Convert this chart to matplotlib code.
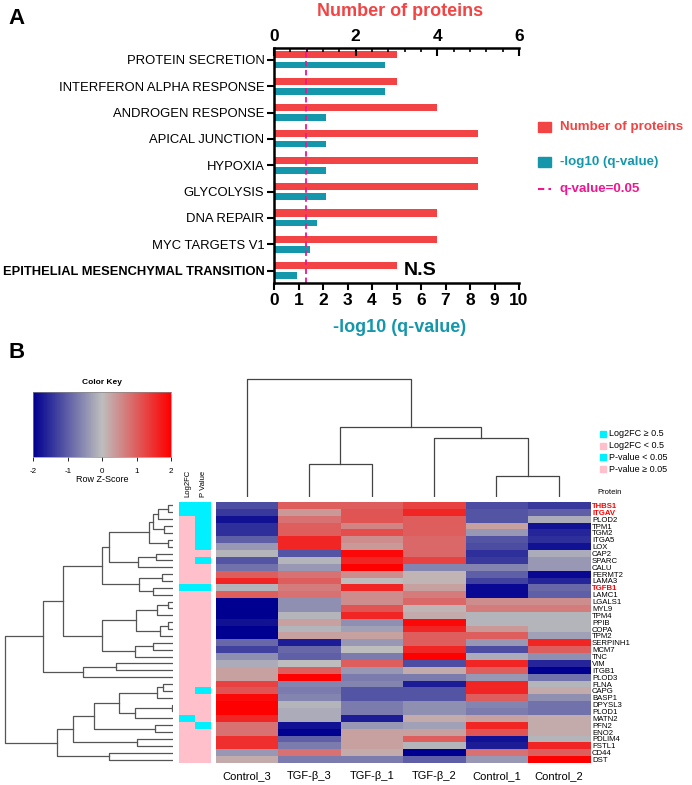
import numpy as np
import matplotlib
matplotlib.use('Agg')
import matplotlib.pyplot as plt
from matplotlib.colors import LinearSegmentedColormap, ListedColormap
from matplotlib.patches import Rectangle
from matplotlib.lines import Line2D

plt.rcParams['font.family'] = ['Liberation Sans', 'DejaVu Sans']
NARROW = ['Liberation Sans', 'DejaVu Sans']

# ---------------- panel A data ----------------
hallmarks = ['PROTEIN SECRETION', 'INTERFERON ALPHA RESPONSE', 'ANDROGEN RESPONSE',
             'APICAL JUNCTION', 'HYPOXIA', 'GLYCOLYSIS', 'DNA REPAIR',
             'MYC TARGETS V1', 'EPITHELIAL MESENCHYMAL TRANSITION']
n_proteins = [3, 3, 4, 5, 5, 5, 4, 4, 3]
neg_log_q = [4.53, 4.53, 2.11, 2.11, 2.11, 2.11, 1.77, 1.46, 0.92]
q_cut = 1.301

# ---------------- panel B data ----------------
samples = ['Control_3', 'TGF-\u03b2_3', 'TGF-\u03b2_1', 'TGF-\u03b2_2', 'Control_1', 'Control_2']
proteins = ['THBS1', 'ITGAV', 'PLOD2', 'TPM1', 'TGM2', 'ITGA5', 'LOX', 'CAP2', 'SPARC',
            'CALU', 'FERMT2', 'LAMA3', 'TGFB1', 'LAMC1', 'LGALS1', 'MYL9', 'TPM4', 'PPIB',
            'COPA', 'TPM2', 'SERPINH1', 'MCM7', 'TNC', 'VIM', 'ITGB1', 'PLOD3', 'FLNA',
            'CAPG', 'BASP1', 'DPYSL3', 'PLOD1', 'MATN2', 'PFN2', 'ENO2', 'PDLIM4', 'FSTL1',
            'CD44', 'DST']
highlight = ['THBS1', 'ITGAV', 'TGFB1']
zscore = [
    [-1.2, 1.0, 1.0, 1.3, -1.2, -1.4],
    [-1.4, 0.4, 1.1, 1.6, -1.1, -1.0],
    [-1.8, 0.8, 1.1, 1.0, -1.1, -0.2],
    [-1.5, 1.0, 0.6, 1.0, 0.3, -1.8],
    [-1.5, 1.0, 1.2, 1.0, -0.4, -1.6],
    [-1.0, 1.6, 0.5, 0.9, -1.1, -1.5],
    [-0.4, 1.6, 0.4, 0.9, -1.2, -1.8],
    [-0.1, -1.1, 1.9, 0.9, -1.5, -0.2],
    [-1.1, -0.1, 1.6, 1.3, -1.4, -0.4],
    [-0.8, -0.4, 2.0, -0.6, -0.6, -0.4],
    [1.0, 0.8, 0.5, 0.1, -1.0, -1.9],
    [1.6, 1.0, 0.0, 0.1, -1.3, -1.6],
    [-0.1, 0.7, 1.6, 0.3, -1.9, -0.9],
    [1.0, 0.8, 0.5, 0.7, -1.9, -1.0],
    [-2.0, -0.5, 0.5, 0.9, 0.5, 0.5],
    [-2.0, -0.5, 1.1, 0.1, 0.7, 0.7],
    [-2.0, -0.1, 1.6, 0.2, -0.1, -0.1],
    [-1.8, 0.3, -0.5, 1.9, -0.1, -0.1],
    [-2.0, -0.1, -0.3, 1.6, 0.4, -0.1],
    [-2.0, 0.3, 0.3, 1.0, 1.0, -0.3],
    [-0.9, -1.7, -0.4, 1.0, -0.4, 1.6],
    [-1.3, -0.9, 0.0, 1.6, -1.2, 1.0],
    [-0.5, -1.0, -0.7, 2.0, -0.2, -0.5],
    [-0.2, 0.0, 1.0, -1.2, 1.6, -1.6],
    [0.3, 1.0, -0.4, 0.2, 1.0, -2.0],
    [0.3, 2.0, -0.7, -0.7, -0.4, -0.8],
    [1.3, -0.6, -0.6, -1.7, 1.6, -0.1],
    [1.1, -0.7, -1.1, -1.1, 1.6, 0.2],
    [1.9, -0.6, -1.1, -1.1, 1.0, -0.5],
    [2.0, -0.1, -0.7, -0.5, -0.6, -0.8],
    [2.0, -0.2, -0.7, -0.5, -0.7, -0.8],
    [1.6, -0.2, -1.7, 0.2, 0.3, 0.2],
    [0.8, -1.8, -0.4, -0.3, 1.6, 0.2],
    [0.8, -2.0, 0.3, 0.3, 1.1, 0.2],
    [1.5, -1.0, 0.3, 1.0, -1.8, -0.1],
    [1.5, -0.7, 0.3, -0.1, -1.7, 1.6],
    [-0.4, 0.8, 0.2, -2.0, 0.8, 1.0],
    [0.2, -0.7, -0.7, -1.0, -0.4, 2.0],
]
# 1 = Log2FC >= 0.5 / P < 0.05
log2fc_flag = [1, 1, 0, 0, 0, 0, 0, 0, 0, 0, 0, 0, 1, 0, 0, 0, 0, 0, 0, 0,
               0, 0, 0, 0, 0, 0, 0, 0, 0, 0, 0, 1, 0, 0, 0, 0, 0, 0]
pval_flag = [1, 1, 1, 1, 1, 1, 1, 0, 1, 0, 0, 0, 1, 0, 0, 0, 0, 0, 0, 0,
             0, 0, 0, 0, 0, 0, 0, 1, 0, 0, 0, 0, 1, 0, 0, 0, 0, 0]

# dendrograms: (left, right, merge height), leaves are display indices
row_tree = (
    (
        (
            (
                (((((0, 1, 5.0), 2, 14.7), (3, 4, 8.7), 20.3), (5, 6, 5.0), 23.7),
                 ((7, 8, 17.3), 9, 35.3), 63.7),
                ((10, 11, 11.3), (12, 13, 19.7), 33.7), 70.7),
            ((((14, 15, 4.7), 16, 16.0), ((17, 18, 5.3), 19, 13.0), 37.3),
             ((20, 21, 20.3), 22, 38.0), 71.3),
            109.7),
        ((23, 24, 57.0), 25, 90.3), 129.7),
    (
        (
            (
                ((((26, 27, 9.7), 28, 16.3), ((29, 30, 0.7), 31, 38.0), 53.7),
                 (32, 33, 18.0), 78.7)),
            (34, 35, 36.3), 100.3),
        (36, 37, 63.7), 116.3),
    168.3)
col_tree = (0, ((1, 2, 32.7), (3, (4, 5, 21.3), 58.7), 70.3), 118.0)

RED = '#F24444'
TEAL = '#1597AB'
PINKLINE = '#F0168C'
CYAN = '#00F0FF'
PINK = '#FFC0CB'

W, H = 692, 785
fig = plt.figure(figsize=(W / 100, H / 100), dpi=100)


def box(x0, y0, x1, y1):
    return [x0 / W, 1 - y1 / H, (x1 - x0) / W, (y1 - y0) / H]


def ftext(x, y, s, **kw):
    fig.text(x / W, 1 - y / H, s, **kw)


def unwrap(node):
    while isinstance(node, tuple) and len(node) == 1:
        node = node[0]
    return node


def draw_tree(ax, node, rows=True):
    node = unwrap(node)
    if isinstance(node, int):
        return node, 0.0
    left, right, h = node
    pl, hl = draw_tree(ax, left, rows)
    pr, hr = draw_tree(ax, right, rows)
    if rows:
        ax.plot([hl, h, h, hr], [pl, pl, pr, pr], color='#555555', lw=0.9)
    else:
        ax.plot([pl, pl, pr, pr], [hl, h, h, hr], color='#444444', lw=0.9)
    return (pl + pr) / 2, h


# ================= panel A =================
ftext(8, 18, 'A', fontsize=16, fontweight='bold', va='center', ha='left')

ax = fig.add_axes(box(274, 48.3, 519, 283.3))
ax2 = ax.twiny()
ypos = np.arange(len(hallmarks))

ax2.barh(ypos - 0.19, n_proteins, height=0.27, color=RED)
ax.barh(ypos + 0.19, neg_log_q, height=0.25, color=TEAL)
ax.axvline(q_cut, color=PINKLINE, lw=1.3, ls=(0, (3, 2)))
ax.set_zorder(ax2.get_zorder() + 1)
ax.patch.set_visible(False)

ax.set_xlim(0, 10)
ax2.set_xlim(0, 6)
ax.set_ylim(8.48, -0.44)
ax.set_xticks(range(11))
ax2.set_xticks([0, 2, 4, 6])
ax2.xaxis.set_minor_locator(matplotlib.ticker.MultipleLocator(0.4))
ax.set_yticks(ypos)
ax.set_yticklabels(hallmarks, family=NARROW, fontsize=9.4)
ax.get_yticklabels()[-1].set_fontweight('bold')
ax.get_yticklabels()[-1].set_fontsize(9.3)
for lab in ax.get_xticklabels() + ax2.get_xticklabels():
    lab.set_family(NARROW)
    lab.set_fontweight('bold')
    lab.set_fontsize(12.5)
for a in (ax, ax2):
    for s in a.spines.values():
        s.set_linewidth(1.8)
    a.spines['right'].set_visible(False)
ax.spines['top'].set_visible(False)
ax2.spines['bottom'].set_visible(False)
ax2.spines['left'].set_visible(False)
ax.tick_params(axis='both', which='major', direction='out', length=5, width=1.5, pad=2)
ax2.tick_params(axis='x', which='major', direction='in', length=6, width=1.5, pad=3)
ax2.tick_params(axis='x', which='minor', direction='in', length=3, width=1.2)

ax.text(5.3, 8.0, 'N.S', fontsize=14, fontweight='bold', family=NARROW, va='center', ha='left')
ftext(400, 328, '-log10 (q-value)', color=TEAL, fontsize=13, fontweight='bold',
      family=NARROW, ha='center', va='center')
ftext(400, 12, 'Number of proteins', color=RED, fontsize=13, fontweight='bold',
      family=NARROW, ha='center', va='center')

# legend
fig.add_artist(Rectangle((538 / W, 1 - 132 / H), 13 / W, 10 / H, color=RED,
                         transform=fig.transFigure))
fig.add_artist(Rectangle((538 / W, 1 - 167 / H), 13 / W, 10 / H, color=TEAL,
                         transform=fig.transFigure))
fig.add_artist(Line2D([538 / W, 551 / W], [1 - 189 / H, 1 - 189 / H], color=PINKLINE,
                      lw=1.5, ls=(0, (3, 2)), transform=fig.transFigure))
ftext(560, 127, 'Number of proteins', color=RED, fontsize=9.6, fontweight='bold',
      family=NARROW, va='center')
ftext(560, 162, '-log10 (q-value)', color=TEAL, fontsize=9.6, fontweight='bold',
      family=NARROW, va='center')
ftext(560, 189, 'q-value=0.05', color=PINKLINE, fontsize=9.6, fontweight='bold',
      family=NARROW, va='center')

# ================= panel B =================
ftext(8, 353, 'B', fontsize=16, fontweight='bold', va='center', ha='left')

cmap = LinearSegmentedColormap.from_list('bgr', ['#000090', '#BEBEBE', '#FF0000'])

# color key
kax = fig.add_axes(box(33.3, 391.7, 171, 457.3))
kax.imshow(np.linspace(-2, 2, 200)[None, :], cmap=cmap, aspect='auto',
           extent=[-2, 2, 0, 1], vmin=-2, vmax=2)
kax.set_xlim(-2, 2)
kax.set_yticks([])
kax.set_xticks([-2, -1, 0, 1, 2])
kax.set_xticklabels(['-2', '-1', '0', '1', '2'], fontsize=5.8)
kax.tick_params(axis='x', length=3, width=0.6, pad=5)
for s in kax.spines.values():
    s.set_linewidth(0.5)
    s.set_color('#888888')
ftext(102, 383, 'Color Key', fontsize=6, fontweight='bold', ha='center', va='center')
ftext(102, 480, 'Row Z-Score', fontsize=6.5, ha='center', va='center')

# heatmap
hax = fig.add_axes(box(215.7, 502, 590, 763))
hax.imshow(np.array(zscore), cmap=cmap, vmin=-2, vmax=2, aspect='auto',
           interpolation='nearest')
hax.set_xticks(range(len(samples)))
hax.set_xticklabels(samples, fontsize=8)
hax.set_yticks(range(len(proteins)))
hax.set_yticklabels(proteins, fontsize=5.6)
hax.yaxis.tick_right()
hax.tick_params(length=0, pad=1.5)
hax.tick_params(axis='x', pad=6)
for lab in hax.get_yticklabels():
    if lab.get_text() in highlight:
        lab.set_color('red')
        lab.set_fontweight('bold')
for s in hax.spines.values():
    s.set_visible(False)

# side annotation
aax = fig.add_axes(box(179.3, 502, 211.3, 763))
annot = np.column_stack([log2fc_flag, pval_flag])
aax.imshow(annot, cmap=ListedColormap([PINK, CYAN]), vmin=0, vmax=1, aspect='auto',
           interpolation='nearest')
aax.set_xticks([])
aax.set_yticks([])
for s in aax.spines.values():
    s.set_visible(False)
ftext(187.5, 497, 'Log2FC', fontsize=5.5, rotation=90, ha='center', va='bottom')
ftext(203.5, 497, 'P Value', fontsize=5.5, rotation=90, ha='center', va='bottom')

# row dendrogram
rax = fig.add_axes(box(0, 502, 173, 763))
draw_tree(rax, row_tree, rows=True)
rax.set_xlim(173, 0)
rax.set_ylim(len(proteins) - 0.5, -0.5)
rax.axis('off')

# column dendrogram
cax = fig.add_axes(box(215.7, 370, 590, 497))
draw_tree(cax, col_tree, rows=False)
cax.set_xlim(-0.5, len(samples) - 0.5)
cax.set_ylim(0, 127)
cax.axis('off')

# annotation legend
leg_items = [('Log2FC \u2265 0.5', CYAN), ('Log2FC < 0.5', PINK),
             ('P-value < 0.05', CYAN), ('P-value \u2265 0.05', PINK)]
for i, (lab, col) in enumerate(leg_items):
    yy = 434 + i * 11.7
    fig.add_artist(Rectangle((600 / W, 1 - (yy + 3) / H), 6 / W, 6 / H, color=col,
                             transform=fig.transFigure))
    ftext(609, yy, lab, fontsize=6.5, va='center', ha='left')
ftext(597, 493, 'Protein', fontsize=5.5, va='center', ha='left')

fig.savefig('out.png', dpi=100)
